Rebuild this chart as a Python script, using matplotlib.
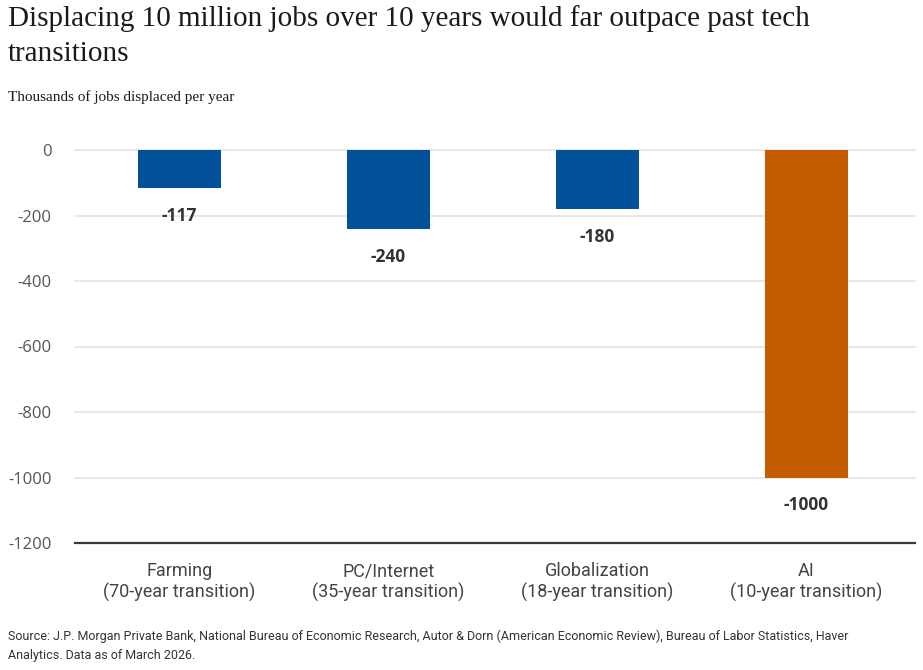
import matplotlib.pyplot as plt

# dati del grafico
categorie = ['Farming\n(70-year transition)', 'PC/Internet\n(35-year transition)',
             'Globalization\n(18-year transition)', 'AI\n(10-year transition)']
valori = [-117, -240, -180, -1000]
colori = ['#03519b', '#03519b', '#03519b', '#c65c00']
tick_y = [0, -200, -400, -600, -800, -1000, -1200]

titolo = 'Displacing 10 million jobs over 10 years would far outpace past tech\ntransitions'
sottotitolo = 'Thousands of jobs displaced per year'
fonte = ('Source: J.P. Morgan Private Bank, National Bureau of Economic Research, Autor & Dorn '
         '(American Economic Review), Bureau of Labor Statistics, Haver\nAnalytics. Data as of March 2026.')

sans = ['Roboto', 'DejaVu Sans']


def main():
    W, H = 923, 670
    fig = plt.figure(figsize=(W / 100, H / 100), dpi=100)
    ax = fig.add_axes([75 / W, 1 - 543 / H, 840 / W, 393 / H])

    x = range(len(valori))
    ax.bar(x, valori, width=0.4, color=colori, zorder=3)
    ax.set_xlim(-0.5, 3.52)
    ax.set_ylim(-1200, 0)

    # griglia orizzontale
    for t in tick_y[:-1]:
        ax.axhline(t, color='#e8e8e8', lw=1.5, zorder=1, clip_on=False)
    ax.axhline(-1200, color='#3a3a3a', lw=1.6, zorder=4, clip_on=False)

    for s in ax.spines.values():
        s.set_visible(False)

    ax.set_yticks(tick_y)
    ax.set_yticklabels([str(t) for t in tick_y], fontsize=12, color='#555555', family='Open Sans')
    ax.tick_params(axis='y', length=0, pad=17)

    ax.set_xticks(list(x))
    ax.set_xticklabels(categorie, fontsize=13, color='#444444', family=sans, linespacing=1.15)
    ax.tick_params(axis='x', length=0, pad=14)

    # etichette dei valori sotto le barre
    for xi, v in zip(x, valori):
        ax.annotate(str(v), (xi, v), xytext=(0, -28), textcoords='offset pixels',
                    ha='center', va='center', fontsize=12.5, fontweight='bold', color='#333333',
                    family='Open Sans', zorder=5)

    fig.text(8 / W, 1 - 5 / H, titolo, ha='left', va='top', fontsize=21, color='#1a1a1a',
             family='Liberation Serif', linespacing=1.45)
    fig.text(8 / W, 1 - 97 / H, sottotitolo, ha='left', va='center', fontsize=11, color='#1a1a1a',
             family='Liberation Serif')
    fig.text(8 / W, 1 - 630 / H, fonte, ha='left', va='top', fontsize=9, color='#333333',
             family=sans, linespacing=1.55)

    fig.savefig('out.png', dpi=100)
    plt.close(fig)


if __name__ == '__main__':
    main()
